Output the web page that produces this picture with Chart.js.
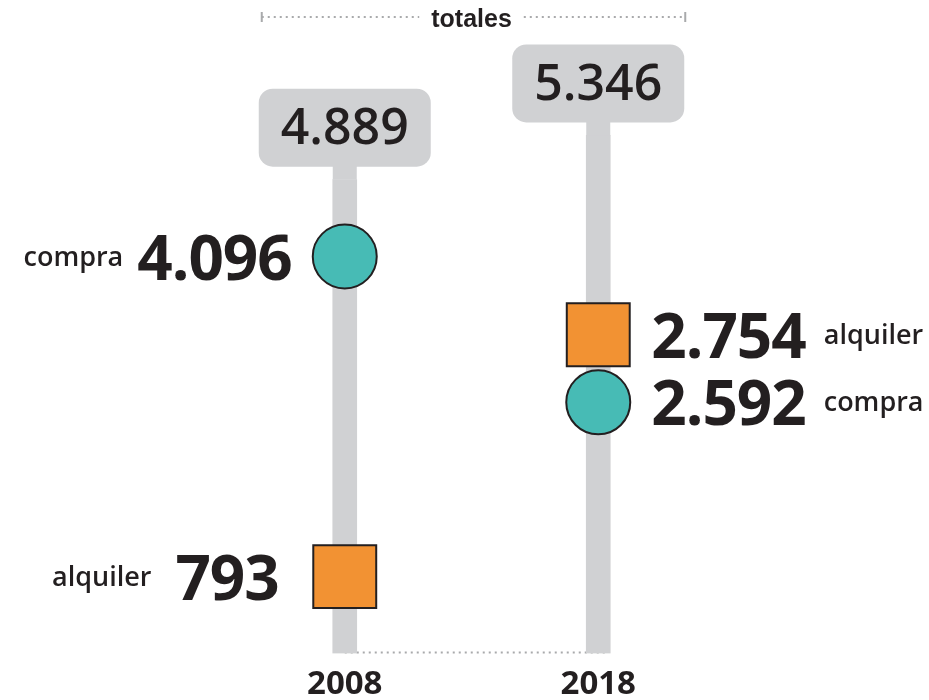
<!DOCTYPE html>
<html lang="es">
<head>
<meta charset="UTF-8">
<title>Compra y alquiler 2008 - 2018</title>
<script src="https://cdn.jsdelivr.net/npm/chart.js@4.4.1/dist/chart.umd.min.js"></script>
<style>
  html, body { margin: 0; padding: 0; background: #fff; }
  .chart-box { width: 929px; height: 700px; position: relative; }
</style>
</head>
<body>
<div class="chart-box"><canvas id="chart"></canvas></div>
<script>
// datos
const years = ['2008', '2018'];
const totales = [4889, 5346];
const compra = [4096, 2592];
const alquiler = [793, 2754];

const INK = '#231f20';
const GREY = '#d0d1d3';
const DOTS = '#a9aaac';
const TEAL = '#47bbb5';
const ORANGE = '#f29233';

function fmt(n) {
    return String(n).replace(/\B(?=(\d{3})+(?!\d))/g, '.');
}

// half height of a point marker, depending on its style
function halfSize(el) {
    const o = el.options;
    const r = o.pointStyle === 'rect' ? o.radius * Math.SQRT1_2 : o.radius;
    return r + o.borderWidth / 2;
}

// keeps circle and square of the same year from sitting on each other
const avoidOverlap = {
    id: 'avoidOverlap',
    afterDatasetsUpdate(chart) {
        const a = chart.getDatasetMeta(0).data;
        const b = chart.getDatasetMeta(1).data;
        a.forEach((p, i) => {
            const q = b[i];
            const need = halfSize(p) + halfSize(q) + 2;
            if (Math.abs(p.y - q.y) < need) {
                const upper = p.y < q.y ? p : q;
                const lower = upper === p ? q : p;
                upper.y = lower.y - need;
            }
        });
    }
};

// dotted base line between the two stems
const baseLine = {
    id: 'baseLine',
    beforeDatasetsDraw(chart) {
        const bars = chart.getDatasetMeta(2).data;
        const ctx = chart.ctx;
        const y = chart.chartArea.bottom - 1;
        ctx.save();
        ctx.strokeStyle = DOTS;
        ctx.lineWidth = 2;
        ctx.setLineDash([2, 4]);
        ctx.beginPath();
        ctx.moveTo(bars[0].x, y);
        ctx.lineTo(bars[1].x + 8, y);
        ctx.stroke();
        ctx.restore();
    }
};

// grey boxes with the totals on top of each stem + "totales" header
const totalBoxes = {
    id: 'totalBoxes',
    afterDatasetsDraw(chart) {
        const ctx = chart.ctx;
        const bars = chart.getDatasetMeta(2).data;
        const lift = 13, w = 172, h = 78;
        ctx.save();
        bars.forEach((bar, i) => {
            const bottom = bar.y - lift;
            ctx.fillStyle = GREY;
            ctx.fillRect(bar.x - bar.width / 2, bottom - 2, bar.width, lift + 2);
            ctx.beginPath();
            ctx.roundRect(bar.x - w / 2, bottom - h, w, h, 14);
            ctx.fill();
            ctx.fillStyle = INK;
            ctx.font = '600 50px "Open Sans"';
            ctx.textAlign = 'center';
            ctx.textBaseline = 'middle';
            ctx.fillText(fmt(totales[i]), bar.x, bottom - h / 2 + 2);
        });

        // header
        const left = bars[0].x - 83, right = bars[1].x + 87;
        const cx = (left + right) / 2 - 2, y = 17;
        ctx.font = 'bold 25px "Liberation Sans"';
        ctx.textAlign = 'center';
        ctx.textBaseline = 'alphabetic';
        ctx.fillStyle = INK;
        ctx.fillText('totales', cx, 27);
        const tw = ctx.measureText('totales').width;
        ctx.strokeStyle = DOTS;
        ctx.lineWidth = 2;
        ctx.setLineDash([2, 4]);
        ctx.beginPath();
        ctx.moveTo(left, y);
        ctx.lineTo(cx - tw / 2 - 12, y);
        ctx.moveTo(cx + tw / 2 + 12, y);
        ctx.lineTo(right, y);
        ctx.stroke();
        ctx.setLineDash([]);
        ctx.beginPath();
        ctx.moveTo(left, y - 5);
        ctx.lineTo(left, y + 5);
        ctx.moveTo(right, y - 5);
        ctx.lineTo(right, y + 5);
        ctx.stroke();
        ctx.restore();
    }
};

// value and name next to every marker
const pointLabels = {
    id: 'pointLabels',
    afterDatasetsDraw(chart) {
        const ctx = chart.ctx;
        ctx.save();
        ctx.fillStyle = INK;
        [0, 1].forEach(d => {
            const meta = chart.getDatasetMeta(d);
            const ds = chart.data.datasets[d];
            meta.data.forEach((el, i) => {
                const num = fmt(ds.data[i]);
                const onLeft = i === 0;
                // squares on the left side get a bit more room
                const gap = onLeft && d === 1 ? 66 : 53;
                ctx.font = 'bold 62px "Open Sans"';
                ctx.letterSpacing = '-1px';
                const nw = ctx.measureText(num).width;
                const nx = onLeft ? el.x - gap - nw : el.x + gap;
                ctx.textAlign = 'left';
                ctx.textBaseline = 'alphabetic';
                ctx.fillText(num, nx, el.y + 23);

                ctx.font = '600 27px "Open Sans"';
                ctx.letterSpacing = '0px';
                const lw = ctx.measureText(ds.label).width;
                const lx = onLeft ? nx - (d === 1 ? 24 : 14) - lw : nx + nw + 18;
                ctx.fillText(ds.label, lx, el.y + 9);
            });
        });
        ctx.restore();
    }
};

const ctx = document.getElementById('chart').getContext('2d');
new Chart(ctx, {
    type: 'bar',
    data: {
        labels: years,
        datasets: [
            {
                type: 'line',
                label: 'compra',
                data: compra,
                showLine: false,
                pointStyle: 'circle',
                pointRadius: 32,
                pointHoverRadius: 32,
                pointBackgroundColor: TEAL,
                pointBorderColor: INK,
                pointBorderWidth: 2,
                clip: false,
                order: 0
            },
            {
                type: 'line',
                label: 'alquiler',
                data: alquiler,
                showLine: false,
                pointStyle: 'rect',
                pointRadius: 44.5,
                pointHoverRadius: 44.5,
                pointBackgroundColor: ORANGE,
                pointBorderColor: INK,
                pointBorderWidth: 2,
                clip: false,
                order: 1
            },
            {
                label: 'totales',
                data: totales,
                backgroundColor: GREY,
                barThickness: 24,
                order: 2
            }
        ]
    },
    options: {
        responsive: true,
        maintainAspectRatio: false,
        animation: false,
        events: [],
        layout: {
            padding: { left: 218, right: 204, top: 72, bottom: -20 }
        },
        scales: {
            x: {
                grid: { display: false, drawTicks: false },
                border: { display: false },
                ticks: {
                    color: INK,
                    padding: 15,
                    font: { family: '"Open Sans"', size: 33, weight: 'bold', lineHeight: 1 }
                }
            },
            y: {
                display: false,
                min: 0,
                max: 6000
            }
        },
        plugins: {
            legend: { display: false },
            tooltip: { enabled: false }
        }
    },
    plugins: [avoidOverlap, baseLine, totalBoxes, pointLabels]
});
</script>
</body>
</html>
